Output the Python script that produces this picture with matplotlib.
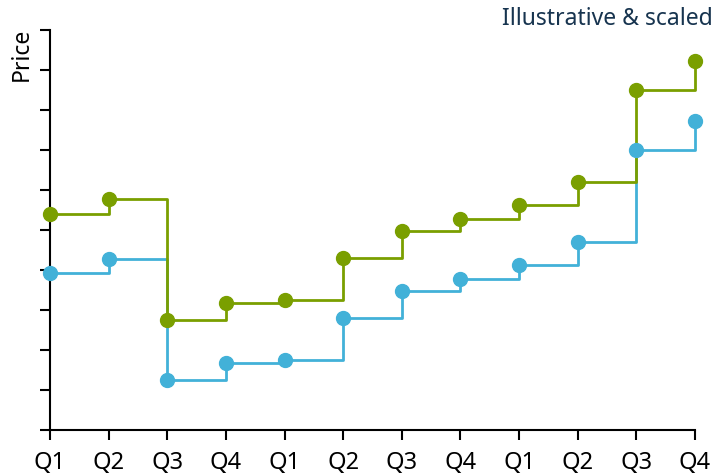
import matplotlib.pyplot as plt

quarters = ["Q1", "Q2", "Q3", "Q4"] * 3
green_prices = [5.4, 5.78, 2.75, 3.18, 3.25, 4.3, 4.98, 5.28, 5.63, 6.2, 8.5, 9.23]
blue_prices = [3.93, 4.28, 1.25, 1.68, 1.75, 2.8, 3.48, 3.78, 4.13, 4.7, 7.0, 7.73]

green = "#7a9f00"
blue = "#42b1d8"
navy = "#17344f"

plt.rcParams["font.family"] = ["Noto Sans", "DejaVu Sans"]

fig = plt.figure(figsize=(7.18, 4.75), dpi=100)
ax = fig.add_axes([50 / 718, 45 / 475, 645 / 718, 400 / 475])

x = list(range(len(quarters)))

# lines first, markers on top
ax.step(x, blue_prices, where="post", color=blue, linewidth=2, zorder=2, clip_on=False)
ax.step(x, green_prices, where="post", color=green, linewidth=2, zorder=2, clip_on=False)
ax.plot(x, blue_prices, "o", color=blue, markersize=10, zorder=3, clip_on=False)
ax.plot(x, green_prices, "o", color=green, markersize=10, zorder=3, clip_on=False)

ax.set_xlim(0, 11)
ax.set_ylim(0, 10)
ax.set_xticks(x)
ax.set_xticklabels(quarters, fontsize=17)
ax.set_yticks(range(11))
ax.set_yticklabels([])

for side in ["top", "right"]:
    ax.spines[side].set_visible(False)
for side in ["left", "bottom"]:
    ax.spines[side].set_linewidth(1.5)
ax.tick_params(length=7, width=1.5, pad=8)

fig.text(22 / 718, 1 - 28 / 475, "Price", rotation=90, ha="center", va="top", fontsize=16.5)
fig.text(713 / 718, 1 - 19 / 475, "Illustrative & scaled", ha="right", va="center",
         fontsize=16.5, color=navy)

fig.savefig("out.png", dpi=100)
